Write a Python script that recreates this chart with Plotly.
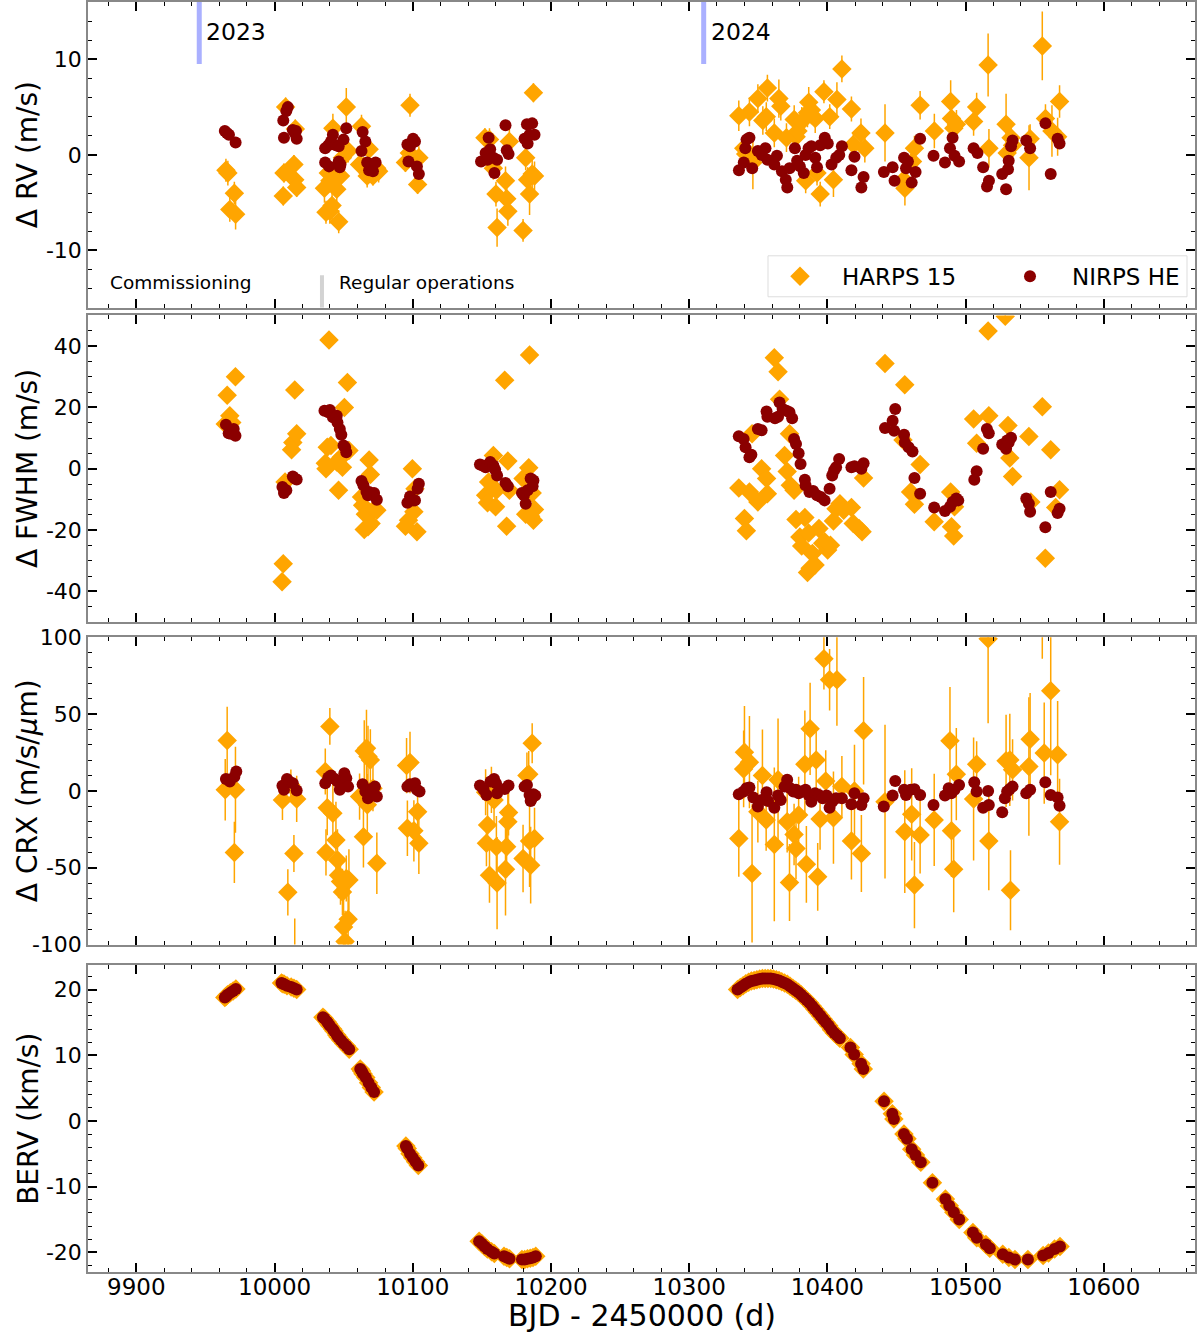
import plotly.graph_objects as go
from plotly.subplots import make_subplots

# ---- data: (BJD-2450000, value[, error]) ----
rv_harps = [
    (9964.8, -1.6, 1.2), (9966.2, -1.9, 1.3), (9967.6, -5.7, 1.3), (9970.9, -4.0, 1.2), (9971.8, -6.2, 1.6),
    (10006.3, -4.3, 1.0), (10006.8, -1.9, 1.0), (10008.0, 5.0, 1.0), (10014.0, -1.0, 1.0), (10014.6, -2.6, 1.0),
    (10016.0, -3.4, 1.0), (10015.0, 2.7, 1.0),
    (10036.1, -3.5, 1.5), (10037.2, -6.0, 1.2), (10038.9, -1.9, 1.2), (10040.0, -5.9, 1.3), (10040.0, -2.7, 1.2),
    (10041.6, -5.3, 1.5), (10042.2, 2.8, 1.5), (10045.0, -3.6, 1.3), (10045.0, -2.0, 1.0), (10046.4, -7.0, 1.2),
    (10047.7, -2.2, 1.2), (10049.1, -0.3, 1.5), (10051.9, 5.0, 2.0), (10053.3, 0.4, 1.2),
    (10061.5, -1.0, 1.0), (10062.9, 3.0, 1.2), (10064.3, -1.2, 1.0), (10067.0, -2.2, 1.2), (10068.4, 0.6, 1.2),
    (10071.2, -2.2, 1.0), (10073.9, -1.4, 1.0), (10075.3, -1.7, 1.2),
    (10094.7, -0.8, 1.0), (10097.5, 0.2, 1.0), (10098.0, 5.2, 1.2), (10099.7, -0.3, 1.0), (10103.5, -3.1, 1.0),
    (10104.4, -0.3, 1.2),
    (10152.2, 1.8, 1.0), (10155.5, 1.6, 1.2), (10156.9, -0.7, 1.2), (10158.3, -1.4, 1.2), (10160.2, -4.1, 1.3),
    (10161.0, -7.6, 2.0), (10167.1, -2.7, 1.5), (10168.0, -4.6, 1.5), (10168.8, -5.9, 1.5), (10169.9, 1.4, 1.3),
    (10179.8, -7.9, 1.2), (10181.7, -0.3, 1.3), (10183.1, -2.6, 1.3), (10184.5, -4.1, 2.2), (10186.4, -2.0, 1.5),
    (10187.3, 6.5, 1.0), (10188.1, -2.2, 1.5),
    (10335.9, 4.1, 1.6), (10339.5, 0.7, 1.3), (10340.9, 0.1, 1.3), (10343.6, 4.5, 1.5), (10346.1, -0.8, 2.8),
    (10349.7, 5.9, 1.5), (10353.3, 3.6, 1.5), (10355.8, 4.0, 1.5), (10356.6, 7.0, 1.4), (10361.6, 2.3, 1.5),
    (10364.9, 5.9, 2.0), (10366.3, 5.1, 1.5), (10370.4, 1.8, 1.5), (10376.0, 3.7, 1.5), (10377.4, 1.9, 1.5),
    (10378.7, 2.5, 1.5), (10381.5, 3.5, 1.5), (10384.3, -2.7, 1.3), (10385.6, 4.4, 1.5), (10386.5, 5.5, 1.6),
    (10388.4, 4.7, 1.5), (10391.2, 3.8, 1.5), (10392.5, -1.9, 1.3), (10394.8, -4.1, 1.3), (10397.5, 6.6, 1.2),
    (10401.7, 4.0, 1.3), (10404.4, -2.6, 1.8), (10406.9, 5.8, 1.8), (10410.5, 9.0, 1.4), (10417.4, 4.8, 1.3),
    (10418.8, 1.1, 1.3), (10424.3, 2.3, 1.5), (10427.1, 0.7, 1.5), (10441.7, 2.3, 3.0), (10455.3, -2.6, 1.5),
    (10456.1, -3.5, 1.8), (10461.6, -0.7, 1.3), (10463.0, 0.7, 1.3), (10467.1, 5.2, 1.5), (10477.4, 2.5, 1.8),
    (10489.2, 5.6, 2.2), (10489.8, 3.8, 1.5), (10491.5, 2.8, 1.5), (10493.4, 3.2, 1.5), (10505.8, 3.5, 1.5),
    (10508.0, 5.0, 1.5), (10516.3, 9.4, 3.3), (10516.9, 0.7, 2.0), (10529.3, 3.2, 3.2), (10530.1, 0.2, 1.5),
    (10532.9, 1.8, 1.5), (10534.0, 1.0, 1.5), (10545.9, -0.3, 3.4), (10546.7, 1.7, 1.5), (10555.5, 11.4, 3.6),
    (10557.8, 3.8, 1.5), (10562.5, 2.5, 2.7), (10566.6, 1.9, 2.0), (10568.0, 5.6, 1.7),
]
rv_nirps = [
    (9964.0, 2.5), (9965.5, 2.3), (9967.0, 2.1), (9971.8, 1.3),
    (10006.3, 3.6), (10006.8, 1.8), (10008.5, 4.6), (10009.6, 5.0), (10013.2, 2.6), (10014.6, 2.3),
    (10015.5, 2.5), (10016.0, 1.7),
    (10036.6, 0.7), (10036.6, -0.8), (10038.9, 1.0), (10039.4, -1.2), (10040.8, 1.4), (10042.2, 2.1),
    (10044.4, 1.0), (10046.4, -0.7), (10046.4, 0.9), (10047.2, -1.3), (10047.7, -1.0), (10049.9, 1.6),
    (10051.9, 2.8),
    (10062.9, 0.4), (10063.7, 2.4), (10065.7, 1.4), (10067.0, -0.8), (10068.4, -1.6), (10069.8, -1.2),
    (10071.2, -1.7), (10073.1, -0.8),
    (10096.1, 1.1), (10096.9, -0.7), (10098.0, 0.9), (10100.2, 1.7), (10101.6, 1.4), (10103.0, -1.2),
    (10104.4, -2.0),
    (10149.4, -0.7), (10152.7, 0.2), (10154.1, -0.5), (10154.9, 1.8), (10156.0, 0.6), (10158.3, -0.3),
    (10159.1, -1.9), (10161.0, -0.5), (10167.1, 3.1), (10168.0, 0.5), (10169.3, 0.1),
    (10180.9, 1.7), (10182.6, 3.2), (10183.1, 1.2), (10184.5, 2.1), (10186.4, 3.3), (10188.1, 2.1),
    (10336.0, -1.6), (10339.5, -0.8), (10340.6, 0.7), (10341.5, 1.6), (10343.6, 1.8), (10345.6, -1.4),
    (10349.7, 0.4), (10352.5, 0.0), (10355.2, 0.7), (10356.6, -0.5), (10361.6, -1.0), (10363.5, -0.1),
    (10367.1, -1.7), (10369.9, -2.6), (10371.0, -3.4), (10372.6, -1.4), (10376.5, 0.7), (10378.1, -0.6),
    (10380.1, -1.2), (10382.9, -1.9), (10384.2, 0.0), (10386.4, 0.7), (10388.4, 0.9), (10391.2, -0.3),
    (10392.5, -1.3), (10394.8, 1.0), (10398.1, 1.8), (10400.3, 1.2), (10403.0, -1.0), (10406.4, -0.3),
    (10408.6, 0.0), (10410.5, 0.9), (10417.4, -1.6), (10419.6, -0.2), (10424.6, -3.4), (10426.2, -2.3),
    (10440.9, -1.8), (10447.2, -1.3), (10448.6, -2.7), (10455.5, -0.3), (10456.9, -1.4), (10458.3, -0.7),
    (10461.0, -2.9), (10463.8, -1.8), (10467.1, 1.7), (10476.8, -0.1), (10485.1, -0.8), (10488.7, 0.7),
    (10490.6, 1.8), (10492.0, -0.1), (10495.3, -0.7), (10505.8, 0.7), (10508.6, 0.2), (10512.7, -1.3),
    (10515.5, -3.3), (10516.9, -2.7), (10526.5, -2.0), (10529.3, -3.6), (10530.7, -1.5), (10531.2, -0.6),
    (10532.9, 0.9), (10534.0, 1.5), (10543.9, 1.5), (10546.7, 0.7), (10557.8, 3.3), (10561.6, -2.0),
    (10566.6, 1.7), (10568.0, 1.2),
]

fwhm_harps = [
    (9965.7, 24.0), (9967.6, 17.3), (9969.0, 15.1), (9971.7, 30.0), (9964.3, 14.6),
    (10006.3, -31.0), (10005.4, -36.8), (10007.6, -4.3), (10013.2, 8.6), (10012.3, 6.2), (10016.0, 11.4),
    (10014.6, 25.7),
    (10039.4, 42.0), (10036.7, 1.8), (10037.2, 0.0), (10038.1, 7.0), (10040.8, 7.6), (10045.0, 2.2),
    (10046.3, -7.0), (10049.1, 0.5), (10050.5, 20.0), (10052.7, 28.1), (10053.8, 6.0), (10048.3, 3.8),
    (10062.9, -9.2), (10063.7, -11.9), (10065.7, -14.8), (10064.9, -19.8), (10068.4, 2.9), (10069.3, -1.9),
    (10069.8, -17.8), (10072.0, -13.3), (10074.0, -13.5), (10067.6, -18.9),
    (10094.7, -18.7), (10096.9, -16.8), (10099.7, 0.0), (10100.8, -14.0), (10103.0, -20.5), (10101.6, -6.5),
    (10152.7, -8.6), (10154.1, -11.1), (10154.9, -4.3), (10158.3, 4.3), (10160.5, -7.0), (10159.9, -12.4),
    (10166.5, 28.9), (10168.8, 2.5), (10167.9, -18.7), (10169.9, -7.0),
    (10184.5, 37.1), (10179.8, -3.2), (10181.7, -14.8), (10183.9, 0.3), (10185.3, -15.5), (10187.3, -16.8),
    (10188.1, -13.3), (10186.4, -7.9),
    (10335.9, -6.3), (10340.0, -16.2), (10341.4, -20.2), (10343.6, -7.6), (10345.5, 11.4), (10349.7, -10.8),
    (10352.4, 0.0), (10356.0, -3.2), (10356.6, -8.1), (10361.6, 36.2), (10364.3, 31.6), (10365.4, 22.7),
    (10369.0, 4.3), (10370.9, -0.9), (10372.6, 11.4), (10373.2, -5.4), (10375.9, -7.0), (10377.3, -16.5),
    (10380.1, -22.2), (10381.4, -25.2), (10383.7, -15.9), (10386.4, -20.9), (10385.6, -33.8), (10387.5, -32.4),
    (10389.2, -27.6), (10391.1, -31.4), (10393.9, -19.5), (10396.6, -24.3), (10398.0, -23.8), (10400.2, -26.5),
    (10402.2, -24.9), (10404.4, -17.0), (10406.3, -13.0), (10409.1, -11.4), (10411.8, -13.5), (10417.4, -12.6),
    (10418.7, -17.8), (10422.9, -19.5), (10425.1, -20.5), (10426.2, -3.0), (10441.7, 34.3), (10456.0, 27.4),
    (10454.7, 9.4), (10460.2, -7.6), (10463.0, -11.6), (10467.1, 1.4), (10477.3, -17.3), (10489.2, -7.6),
    (10489.8, -18.9), (10491.4, -21.9), (10492.0, -12.4), (10505.8, 16.2), (10508.0, 8.3), (10516.3, 44.9),
    (10516.8, 17.3), (10528.7, 49.7), (10530.7, 14.1), (10532.0, 3.5), (10534.0, -2.5), (10545.8, 10.5),
    (10547.2, -10.8), (10555.5, 20.2), (10557.7, -29.2), (10561.6, 6.2), (10565.2, -12.6), (10568.0, -6.8),
]
fwhm_nirps = [
    (9964.8, 14.4), (9966.8, 11.6), (9968.4, 11.4), (9970.4, 13.0), (9971.7, 10.8),
    (10005.7, -5.9), (10006.8, -7.9), (10008.5, -7.0), (10013.2, -2.5), (10014.6, -3.2), (10016.0, -3.5),
    (10036.1, 18.9), (10038.9, 18.4), (10040.0, 19.2), (10042.2, 16.8), (10045.0, 17.3), (10045.5, 15.1),
    (10047.2, 13.0), (10048.3, 11.1), (10049.9, 7.6), (10051.0, 7.0), (10051.9, 5.4),
    (10062.9, -4.0), (10064.3, -5.4), (10066.5, -7.6), (10067.6, -8.6), (10068.4, -7.6), (10070.4, -8.4),
    (10072.0, -7.9), (10074.0, -10.1),
    (10096.1, -11.1), (10098.0, -9.0), (10100.2, -10.3), (10101.6, -10.3), (10103.5, -6.5), (10104.4, -4.9),
    (10148.6, 1.4), (10150.5, 1.1), (10152.7, 0.5), (10156.0, 2.2), (10158.3, 1.1), (10159.6, -0.3),
    (10161.0, -2.2), (10167.1, -4.6), (10168.8, -5.7),
    (10179.0, -7.9), (10180.4, -8.6), (10181.7, -11.4), (10183.1, -7.0), (10185.3, -3.2), (10187.3, -3.8),
    (10186.7, -5.7),
    (10335.9, 10.6), (10339.4, 9.7), (10340.8, 7.0), (10343.6, 3.8), (10345.0, 4.6), (10349.7, 13.0),
    (10352.4, 12.6), (10356.0, 18.7), (10356.6, 17.0), (10362.1, 16.5), (10364.3, 17.0), (10365.4, 21.6),
    (10367.6, 19.5), (10370.4, 18.9), (10372.6, 18.4), (10374.5, 16.5), (10375.9, 9.7), (10377.3, 8.1),
    (10379.2, 5.1), (10380.6, 1.6), (10383.7, -3.6), (10384.2, -5.4), (10387.0, -7.6), (10389.7, -7.2),
    (10392.5, -8.6), (10395.3, -9.2), (10398.0, -10.3), (10401.6, -6.5), (10403.5, -2.2), (10404.9, -0.5),
    (10406.3, 0.5), (10408.5, 3.2), (10417.4, 0.5), (10419.6, 0.8), (10424.6, 0.0), (10426.2, 1.8),
    (10441.7, 13.3), (10447.2, 15.7), (10448.3, 12.4), (10449.1, 19.5), (10455.5, 11.1), (10456.0, 8.6),
    (10458.8, 7.0), (10461.6, 5.6), (10463.0, -3.0), (10467.1, -8.1), (10477.3, -12.6), (10485.1, -13.8),
    (10488.7, -12.4), (10490.6, -10.8), (10493.3, -9.7), (10494.7, -10.3), (10506.3, -3.6), (10508.0, -0.8),
    (10512.7, 6.5), (10515.4, 13.0), (10516.8, 11.6), (10526.5, 7.9), (10529.3, 6.5), (10530.1, 9.2),
    (10531.2, 8.6), (10532.9, 10.1), (10543.9, -9.7), (10545.8, -11.4), (10546.7, -14.0), (10557.7, -19.1),
    (10561.6, -7.6), (10566.6, -14.4), (10568.0, -13.0),
]

crx_harps = [
    (9965.7, 32.8, 22), (9964.3, 0.7, 20), (9971.7, 0.7, 28), (9970.9, -40.0, 20),
    (10005.7, -5.9, 13), (10009.6, -66.0, 15), (10014.0, -40.7, 12), (10016.0, -5.2, 15), (10011.8, 3.9, 10),
    (10014.6, -108.0, 25),
    (10040.0, 42.0, 12), (10036.7, 12.6, 15), (10038.1, -10.9, 18), (10037.2, -40.0, 15), (10042.2, -14.6, 20),
    (10044.4, -32.0, 25), (10045.5, -45.0, 20), (10046.3, -54.8, 15), (10047.7, -59.0, 15), (10049.1, -65.7, 15),
    (10049.9, -88.5, 20), (10051.0, -98.0, 20), (10053.2, -83.5, 18), (10053.8, -58.0, 20), (10051.9, -57.0, 15),
    (10061.5, -3.7, 15), (10064.3, -29.8, 20), (10064.9, 26.0, 20), (10066.5, 27.8, 25), (10067.6, 22.4, 20),
    (10069.3, 20.2, 20), (10071.2, 1.7, 15), (10074.0, -47.0, 20), (10067.1, -9.0, 20),
    (10095.5, 16.5, 18), (10098.0, 18.5, 20), (10096.1, -24.3, 18), (10100.8, -26.0, 20), (10103.5, -13.5, 15),
    (10104.4, -34.0, 20),
    (10152.7, -0.9, 15), (10154.1, -22.2, 15), (10153.3, -34.0, 15), (10155.5, -54.8, 18), (10156.9, 0.7, 15),
    (10158.8, -5.9, 15), (10160.5, -36.3, 20), (10161.0, -60.0, 30), (10167.1, -51.0, 30), (10167.9, -36.3, 20),
    (10168.8, -20.0, 20), (10169.3, -14.0, 15),
    (10179.8, -44.0, 22), (10182.6, 10.0, 15), (10183.9, 10.9, 15), (10184.5, -32.6, 30), (10186.4, 31.0, 13),
    (10185.3, -48.3, 25), (10188.1, -30.9, 20),
    (10335.9, -30.9, 25), (10340.0, 25.2, 30), (10339.4, 14.3, 25), (10343.6, 18.7, 30), (10345.5, -53.7, 45),
    (10349.7, -13.5, 20), (10353.0, 10.0, 30), (10355.7, -18.9, 20), (10361.6, -34.8, 50), (10364.3, 7.2, 40),
    (10370.9, -20.0, 20), (10372.6, -59.6, 25), (10375.9, -28.3, 20), (10377.3, -37.4, 20), (10379.2, -15.7, 25),
    (10383.7, 17.4, 35), (10384.8, -47.8, 25), (10387.5, 40.4, 30), (10391.9, 20.2, 20), (10393.0, -55.9, 22),
    (10394.7, -18.3, 20), (10397.5, 86.0, 20), (10398.8, 6.5, 20), (10401.6, 72.4, 20), (10404.4, -17.4, 30),
    (10406.9, 72.4, 30), (10410.5, 2.8, 20), (10417.4, -32.6, 25), (10419.6, 0.0, 30), (10424.6, -40.7, 25),
    (10426.2, 39.1, 35), (10441.7, -7.0, 50), (10456.0, -26.5, 40), (10461.0, -15.2, 30), (10463.0, -61.3, 28),
    (10467.1, -28.7, 25), (10477.3, -18.9, 30), (10488.7, 32.6, 35), (10489.8, -26.0, 30), (10491.4, -50.9, 28),
    (10493.3, 10.9, 30), (10505.8, -5.2, 40), (10508.0, 17.4, 15), (10516.3, 99.0, 55), (10516.8, -32.6, 32),
    (10529.3, 19.6, 30), (10532.0, 20.2, 30), (10534.0, 13.7, 20), (10532.5, -64.6, 26), (10545.8, 15.9, 45),
    (10546.7, 33.7, 30), (10555.5, 112.0, 26), (10556.9, 24.6, 33), (10561.6, 65.2, 55), (10566.6, 23.5, 35),
    (10568.0, -20.0, 28),
]
crx_nirps = [
    (9964.8, 7.8), (9967.0, 7.2), (9967.6, 6.1), (9970.9, 9.3), (9972.3, 12.6),
    (10005.7, 3.3), (10006.8, 0.7), (10009.0, 7.8), (10010.4, 6.1), (10013.2, 5.0), (10016.0, 0.2),
    (10036.7, 5.0), (10038.9, 8.7), (10040.8, 10.0), (10043.6, 7.8), (10045.5, 6.1), (10047.2, 0.7),
    (10049.1, 4.3), (10050.5, 11.5), (10051.9, 8.3), (10053.2, 2.8),
    (10063.7, 4.3), (10065.7, -0.4), (10067.6, -4.8), (10069.3, -3.0), (10069.8, 1.3), (10071.2, -0.4),
    (10072.6, 2.8), (10074.0, -3.7),
    (10096.1, 2.8), (10098.0, 4.3), (10100.2, 3.3), (10101.6, 5.0), (10103.0, 0.7), (10104.9, -0.4),
    (10148.6, 3.5), (10151.3, 0.7), (10153.3, -2.6), (10156.3, 6.1), (10158.8, 7.8), (10160.2, 5.0),
    (10161.0, -1.5), (10166.5, 1.3), (10169.3, 3.5),
    (10180.9, 2.8), (10182.6, 3.9), (10184.5, -2.6), (10185.3, -6.5), (10185.9, -5.2), (10187.3, -2.2),
    (10188.6, -3.0),
    (10335.9, -2.2), (10339.4, -0.4), (10341.4, 1.7), (10343.6, 2.2), (10346.4, -4.3), (10349.7, -10.2),
    (10352.4, -5.9), (10356.0, -0.9), (10357.1, -6.5), (10361.6, -10.9), (10364.3, -3.0), (10366.2, -5.9),
    (10369.0, 2.8), (10370.9, 7.2), (10373.2, 1.7), (10375.4, -0.4), (10377.3, 0.7), (10379.2, -1.5),
    (10381.4, -0.4), (10384.2, 0.7), (10386.4, -2.6), (10388.4, -7.0), (10391.1, -1.5), (10393.9, -2.6),
    (10396.6, -4.8), (10399.4, -3.0), (10401.6, -10.9), (10403.5, -7.0), (10406.3, -4.8), (10410.5, -4.8),
    (10417.4, -8.7), (10419.6, -1.5), (10424.6, -9.1), (10426.2, -4.8), (10440.8, -10.2), (10447.2, -3.0),
    (10449.1, 6.5), (10455.5, 0.7), (10456.9, -2.6), (10460.2, 0.7), (10463.0, 1.1), (10467.1, -2.6),
    (10476.8, -9.1), (10485.1, -3.0), (10487.8, 1.7), (10489.7, -1.5), (10492.0, 0.7), (10495.3, 3.9),
    (10506.3, 5.7), (10508.0, -0.4), (10512.7, -10.9), (10516.3, 0.0), (10516.8, -9.1), (10526.5, -13.9),
    (10528.4, -4.8), (10530.1, -0.4), (10532.0, 1.3), (10534.0, 2.8), (10543.9, -1.5), (10546.7, 0.7),
    (10557.7, 5.7), (10561.6, -2.6), (10566.6, -4.3), (10568.0, -9.6),
]

berv = [
    (9964, 18.8), (9965, 19.0), (9966, 19.2), (9968, 19.5), (9970, 19.8), (9972, 20.1),
    (10005, 21.0), (10006, 20.9), (10007, 20.8), (10009, 20.6), (10012, 20.4), (10014, 20.2), (10016, 20.0),
    (10035, 15.8), (10036, 15.6), (10038, 15.1), (10039, 14.8), (10040, 14.5), (10042, 14.0), (10043, 13.7),
    (10045, 13.1), (10046, 12.8), (10048, 12.3), (10050, 11.8), (10052, 11.4), (10054, 10.9),
    (10062, 7.9), (10063, 7.6), (10064, 7.2), (10066, 6.6), (10068, 5.8), (10070, 5.1), (10072, 4.4),
    (10095, -3.8), (10096, -4.2), (10098, -5.0), (10100, -5.6), (10102, -6.2), (10104, -6.8),
    (10148, -18.3), (10150, -18.7), (10152, -19.1), (10154, -19.5), (10157, -19.9), (10159, -20.2),
    (10166, -20.6), (10168, -20.8), (10170, -21.0),
    (10179, -21.1), (10181, -21.1), (10183, -21.0), (10185, -20.9), (10187, -20.8), (10189, -20.6),
    (10335, 20.0), (10337, 20.3), (10339, 20.6), (10341, 20.9), (10343, 21.1), (10345, 21.3), (10347, 21.4),
    (10349, 21.5), (10351, 21.6), (10353, 21.7), (10355, 21.7), (10357, 21.7), (10359, 21.7), (10361, 21.6),
    (10363, 21.5), (10365, 21.4), (10367, 21.2), (10369, 21.0), (10371, 20.8), (10373, 20.5), (10375, 20.2),
    (10377, 19.9), (10379, 19.6), (10381, 19.2), (10383, 18.8), (10385, 18.4), (10387, 18.0), (10389, 17.5),
    (10391, 17.0), (10393, 16.5), (10395, 16.0), (10397, 15.5), (10399, 15.0), (10401, 14.5), (10403, 13.9),
    (10405, 13.4), (10407, 13.0), (10409, 12.6),
    (10416.7, 11.2), (10419.4, 10.1), (10424.4, 8.7), (10426, 7.9),
    (10441, 3.0), (10447, 1.1), (10448.1, 0.3),
    (10455.4, -2.0), (10457.6, -2.7), (10461, -4.3), (10463.7, -5.2), (10467.6, -6.3),
    (10476, -9.4),
    (10485.4, -11.9), (10488.2, -12.9), (10491.5, -13.9), (10495.4, -15.0),
    (10505.3, -17.0), (10508.1, -17.8), (10514.7, -18.8), (10517.5, -19.4),
    (10526.9, -20.3), (10531.3, -20.8), (10535.7, -21.1),
    (10545.1, -21.1),
    (10556.1, -20.5), (10560, -20.1), (10564.4, -19.5), (10568.3, -19.1),
]

ORANGE = "#FFA500"
DARKRED = "#8B0000"
FONT = "DejaVu Sans"


def cols(rows):
    return [list(c) for c in zip(*rows)]


fig = make_subplots(rows=4, cols=1, shared_xaxes=True)


def add_harps(row, rows, const_err=None, show=False):
    c = cols(rows)
    if len(c) == 3:
        ey = dict(type="data", array=c[2], color=ORANGE, thickness=1.5, width=0)
    elif const_err is not None:
        ey = dict(type="constant", value=const_err, color=ORANGE, thickness=1.5, width=0)
    else:
        ey = None
    fig.add_trace(go.Scatter(
        x=c[0], y=c[1], mode="markers", name="HARPS 15", legend="legend",
        showlegend=show, error_y=ey,
        marker=dict(symbol="diamond", size=15, color=ORANGE, line=dict(width=0))),
        row=row, col=1)


def add_nirps(row, rows, const_err=None, show=False):
    c = cols(rows)
    ey = None
    if const_err is not None:
        ey = dict(type="constant", value=const_err, color=DARKRED, thickness=1.5, width=0)
    fig.add_trace(go.Scatter(
        x=c[0], y=c[1], mode="markers", name="NIRPS HE", legend="legend2",
        showlegend=show, error_y=ey,
        marker=dict(symbol="circle", size=12, color=DARKRED, line=dict(width=0))),
        row=row, col=1)


add_harps(1, rv_harps, show=True)
add_nirps(1, rv_nirps, const_err=0.5, show=True)
add_harps(2, fwhm_harps, const_err=1.8)
add_nirps(2, fwhm_nirps, const_err=0.8)
add_harps(3, crx_harps)
add_nirps(3, crx_nirps, const_err=2.0)
add_harps(4, berv)
add_nirps(4, berv)

# axes
tickfont = dict(family=FONT, size=22, color="black")
common_x = dict(range=[9865, 10666], tick0=9900, dtick=100, ticks="inside", ticklen=9, tickwidth=2,
                tickcolor="black", minor=dict(dtick=20, ticks="inside", ticklen=4, tickwidth=1, tickcolor="black"),
                showline=True, linecolor="#888888", linewidth=1.5, mirror="ticks",
                showgrid=False, zeroline=False, tickformat="d", automargin=False,
                tickfont=dict(family=FONT, size=23, color="black"), ticklabelstandoff=-6)
for i in range(1, 5):
    fig.update_xaxes(common_x, row=i, col=1)

y_specs = [
    ([-16, 16], [-10, 0, 10], 2, [0.7592, 1.0]),
    ([-50, 50], [-40, -20, 0, 20, 40], 5, [0.5117, 0.7532]),
    ([-100, 100], [-100, -50, 0, 50, 100], 10, [0.2578, 0.4998]),
    ([-23, 23.7], [-20, -10, 0, 10, 20], 2, [0.0, 0.2415]),
]
for i, (rng, tv, mdt, dom) in enumerate(y_specs, start=1):
    fig.update_yaxes(dict(range=rng, tickvals=tv, ticktext=[str(v) for v in tv], domain=dom,
                          ticks="inside", ticklen=9, tickwidth=2, tickcolor="black",
                          minor=dict(dtick=mdt, tick0=0, ticks="inside", ticklen=4, tickwidth=1,
                                     tickcolor="black"),
                          showline=True, linecolor="#888888", linewidth=1.5, mirror="ticks",
                          showgrid=False, zeroline=False, tickfont=tickfont, automargin=False),
                     row=i, col=1)

# axis titles as annotations so they line up like the original
y_titles = ["Δ RV (m/s)", "Δ FWHM (m/s)", "Δ CRX (m/s/<i>μ</i>m)", "BERV (km/s)"]
for (rng, tv, mdt, dom), title in zip(y_specs, y_titles):
    fig.add_annotation(text=title, xref="paper", yref="paper", x=-0.054, y=(dom[0] + dom[1]) / 2,
                       textangle=-90, showarrow=False, xanchor="center", yanchor="middle",
                       font=dict(family=FONT, size=28, color="black"))
fig.add_annotation(text="BJD - 2450000 (d)", xref="paper", yref="paper", x=0.5, y=-0.0342,
                   showarrow=False, xanchor="center", yanchor="middle",
                   font=dict(family=FONT, size=30, color="black"))

# year markers and operations marker
for xv, label in [(9945.5, "2023"), (10310.5, "2024")]:
    fig.add_shape(type="line", x0=xv, x1=xv, y0=9.5, y1=16, xref="x", yref="y",
                  line=dict(color="#aab0ff", width=5))
    fig.add_annotation(x=xv + 3.5, y=12.9, xref="x", yref="y", text=label, showarrow=False,
                       xanchor="left", yanchor="middle", font=dict(family=FONT, size=23.5, color="black"))
fig.add_shape(type="line", x0=10034.3, x1=10034.3, y0=-16, y1=-12.6, xref="x", yref="y",
              line=dict(color="#d3d3d3", width=4))
fig.add_annotation(x=9879.8, y=-13.3, xref="x", yref="y", text="Commissioning", showarrow=False,
                   xanchor="left", yanchor="middle", font=dict(family=FONT, size=18.5, color="black"))
fig.add_annotation(x=10045.0, y=-13.3, xref="x", yref="y", text="Regular operations", showarrow=False,
                   xanchor="left", yanchor="middle", font=dict(family=FONT, size=18.5, color="black"))

# legend frame (the two entries are placed in it as two small legends)
fig.add_shape(type="rect", xref="paper", yref="paper",
              x0=(768 - 88) / 1107, x1=(1187 - 88) / 1107,
              y0=(1272 - 296) / 1271, y1=(1272 - 255) / 1271,
              line=dict(color="#dddddd", width=1), fillcolor="white", layer="above")

leg_common = dict(orientation="h", yanchor="middle", y=(1272 - 275.5) / 1271, xanchor="left",
                  bgcolor="rgba(0,0,0,0)", borderwidth=0, itemwidth=74,
                  font=dict(family=FONT, size=23, color="black"))
fig.update_layout(
    width=1200, height=1334,
    margin=dict(l=88, r=5, t=2, b=62, autoexpand=False),
    plot_bgcolor="white", paper_bgcolor="white",
    font=dict(family=FONT, color="black"),
    showlegend=True,
    legend=dict(leg_common, x=(758 - 88) / 1107),
    legend2=dict(leg_common, x=(988 - 88) / 1107),
)

fig.write_html("out.html", config={"displayModeBar": False},
               post_script="document.body.style.margin='0';")
